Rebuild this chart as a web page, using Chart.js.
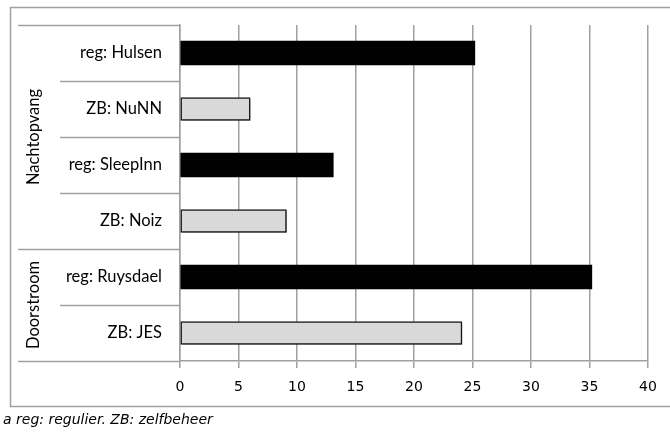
<!DOCTYPE html>
<html>
<head>
<meta charset="utf-8">
<script src="https://cdn.jsdelivr.net/npm/chart.js@4.4.0/dist/chart.umd.min.js"></script>
<style>
  html, body { margin: 0; padding: 0; background: #fff; }
  #wrap { position: relative; width: 670px; height: 432px; }
</style>
</head>
<body>
<div id="wrap"><canvas id="opvangChart" width="670" height="432"></canvas></div>
<script>
// categorieën (van boven naar beneden)
const categories = ['reg: Hulsen', 'ZB: NuNN', 'reg: SleepInn', 'ZB: Noiz', 'reg: Ruysdael', 'ZB: JES'];
// waarden
const regValues = [25.2, null, 13.1, null, 35.2, null];
const zbValues = [null, 6.0, null, 9.1, null, 24.1];
// groep per categorie
const groups = ['Nachtopvang', 'Nachtopvang', 'Nachtopvang', 'Nachtopvang', 'Doorstroom', 'Doorstroom'];
// x-as
const xTicks = [0, 5, 10, 15, 20, 25, 30, 35, 40];
const caption = 'a reg: regulier. ZB: zelfbeheer';

const LINE = '#a0a0a0';

// groepslabels, scheidingslijnen, kader en onderschrift
const decorPlugin = {
    id: 'decor',
    beforeDatasetDraw(chart, args) {
        const ctx = chart.ctx;
        ctx.save();
        if (args.index === 1) {
            // lichte schaduw onder de grijze balken
            ctx.shadowColor = 'rgba(0,0,0,0.22)';
            ctx.shadowOffsetX = 1.5;
            ctx.shadowOffsetY = 1.5;
            ctx.shadowBlur = 0;
        }
    },
    afterDatasetDraw(chart) {
        chart.ctx.restore();
    },
    afterDraw(chart) {
        const ctx = chart.ctx;
        const area = chart.chartArea;
        const y = chart.scales.y;
        ctx.save();
        ctx.strokeStyle = LINE;
        ctx.lineWidth = 1.5;

        // kader
        ctx.strokeRect(10.5, 7.5, 665, 399);

        // scheidingslijnen tussen categorieën
        const boundaries = [];
        boundaries.push({ pos: area.top, full: true });
        for (let i = 0; i < categories.length - 1; i++) {
            const p = (y.getPixelForValue(i) + y.getPixelForValue(i + 1)) / 2;
            boundaries.push({ pos: p, full: groups[i] !== groups[i + 1] });
        }
        boundaries.push({ pos: area.bottom, full: true });
        boundaries.forEach(b => {
            ctx.beginPath();
            ctx.moveTo(b.full ? 18 : 60, Math.round(b.pos) + 0.5);
            ctx.lineTo(area.left, Math.round(b.pos) + 0.5);
            ctx.stroke();
        });

        // groepslabels (verticaal)
        ctx.fillStyle = '#000';
        ctx.font = '16.5px Lato';
        ctx.textAlign = 'center';
        ctx.textBaseline = 'middle';
        const uniq = [...new Set(groups)];
        uniq.forEach(g => {
            const idx = groups.map((v, i) => v === g ? i : -1).filter(i => i >= 0);
            const first = idx[0], last = idx[idx.length - 1];
            const top = first === 0 ? area.top : (y.getPixelForValue(first - 1) + y.getPixelForValue(first)) / 2;
            const bot = last === categories.length - 1 ? area.bottom : (y.getPixelForValue(last) + y.getPixelForValue(last + 1)) / 2;
            ctx.save();
            ctx.translate(34, (top + bot) / 2);
            ctx.rotate(-Math.PI / 2);
            ctx.fillText(g, 0, 0);
            ctx.restore();
        });

        // onderschrift
        ctx.font = 'italic 14px "DejaVu Sans"';
        ctx.textAlign = 'left';
        ctx.textBaseline = 'alphabetic';
        ctx.fillStyle = '#000';
        ctx.fillText(caption, 3, 424);
        ctx.restore();
    }
};

const ctx = document.getElementById('opvangChart').getContext('2d');
const opvangChart = new Chart(ctx, {
    type: 'bar',
    data: {
        labels: categories,
        datasets: [{
            label: 'reg',
            data: regValues,
            backgroundColor: '#000000',
            borderWidth: 0,
            barThickness: 24,
            grouped: false
        }, {
            label: 'ZB',
            data: zbValues,
            backgroundColor: '#d9d9d9',
            borderColor: '#1a1a1a',
            borderWidth: 1.5,
            borderSkipped: false,
            barThickness: 23,
            grouped: false
        }]
    },
    options: {
        indexAxis: 'y',
        responsive: false,
        animation: false,
        events: [],
        layout: { padding: { left: 0, top: 25, right: 22, bottom: 0 } },
        plugins: { legend: { display: false }, tooltip: { enabled: false } },
        scales: {
            x: {
                min: 0,
                max: 40,
                afterBuildTicks: scale => { scale.ticks = xTicks.map(v => ({ value: v })); },
                afterFit: scale => { scale.height = 71; },
                grid: { color: LINE, lineWidth: 1.5, tickLength: 7 },
                border: { color: LINE, width: 1.5 },
                ticks: { color: '#000', font: { family: 'DejaVu Sans', size: 14 }, padding: 11 }
            },
            y: {
                afterFit: scale => { scale.width = 180; },
                grid: { display: false },
                border: { color: LINE, width: 1.5 },
                ticks: { color: '#000', font: { family: 'Lato', size: 16.5 }, padding: 10 }
            }
        }
    },
    plugins: [decorPlugin]
});
</script>
</body>
</html>
